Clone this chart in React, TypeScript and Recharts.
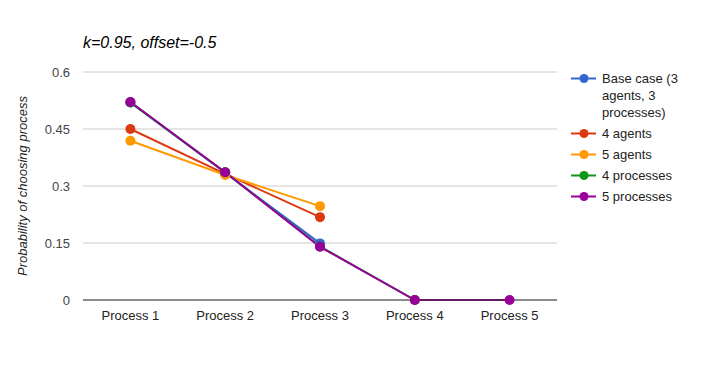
import React from 'react';
import { LineChart, Line, XAxis, YAxis, CartesianGrid, Label } from 'recharts';

const categories = ['Process 1', 'Process 2', 'Process 3', 'Process 4', 'Process 5'];
const baseCase = [0.52, 0.335, 0.149, null, null];
const agents4 = [0.45, 0.332, 0.218, null, null];
const agents5 = [0.419, 0.329, 0.247, null, null];
const processes4 = [0.52, 0.336, 0.141, 0, null];
const processes5 = [0.521, 0.336, 0.14, 0, 0];
const yTicks = [0, 0.15, 0.3, 0.45, 0.6];

const seriesDefs = [
  { key: 'base', name: 'Base case (3 agents, 3 processes)', values: baseCase, color: '#3366cc' },
  { key: 'a4', name: '4 agents', values: agents4, color: '#dc3912' },
  { key: 'a5', name: '5 agents', values: agents5, color: '#ff9900' },
  { key: 'p4', name: '4 processes', values: processes4, color: '#109618' },
  { key: 'p5', name: '5 processes', values: processes5, color: '#990099' },
];

const data = categories.map((c, i) => {
  const row: any = { name: c };
  seriesDefs.forEach((s) => {
    row[s.key] = s.values[i];
  });
  return row;
});

const FONT = "Arial, 'Liberation Sans', sans-serif";

const LegendBlock = () => (
  <div
    style={{
      position: 'absolute',
      left: 570,
      top: 70,
      width: 131,
      fontFamily: FONT,
      fontSize: 13,
      color: '#222',
    }}
  >
    {seriesDefs.map((s) => (
      <div key={s.key} style={{ display: 'flex', alignItems: 'flex-start', marginBottom: 4 }}>
        <svg width={32} height={17} style={{ flex: '0 0 auto' }}>
          <line x1={1} y1={8.5} x2={26} y2={8.5} stroke={s.color} strokeWidth={2} />
          <circle cx={14} cy={8.5} r={4.5} fill={s.color} />
        </svg>
        <div style={{ width: 92, lineHeight: '17px' }}>{s.name}</div>
      </div>
    ))}
  </div>
);

const YLabel = (props: any) => {
  const vb = props.viewBox || { y: 72, height: 228 };
  const cx = 22;
  const cy = vb.y + vb.height / 2;
  return (
    <text
      x={cx}
      y={cy}
      transform={`rotate(-90, ${cx}, ${cy})`}
      textAnchor="middle"
      dominantBaseline="central"
      fontFamily={FONT}
      fontSize={13}
      fontStyle="italic"
      fill="#222"
    >
      Probability of choosing process
    </text>
  );
};

export default function App() {
  return (
    <div style={{ position: 'absolute', left: 0, top: 0, width: 701, height: 371, background: '#fff' }}>
      <div
        style={{
          position: 'absolute',
          left: 83,
          top: 33,
          fontFamily: FONT,
          fontSize: 16,
          fontStyle: 'italic',
          color: '#000',
          whiteSpace: 'nowrap',
          lineHeight: '20px',
        }}
      >
        k=0.95, offset=-0.5
      </div>
      <LineChart
        width={701}
        height={371}
        data={data}
        margin={{ top: 72, right: 144, bottom: 41, left: 23 }}
      >
        <CartesianGrid vertical={false} stroke="#cccccc" strokeWidth={1} />
        <XAxis
          dataKey="name"
          scale="band"
          height={30}
          tickLine={false}
          tickSize={0}
          tickMargin={11}
          axisLine={{ stroke: '#333333', strokeWidth: 1 }}
          tick={{ fontFamily: FONT, fontSize: 13, fill: '#222' }}
          interval={0}
        />
        <YAxis
          width={60}
          domain={[0, 0.6]}
          ticks={yTicks}
          tickLine={false}
          tickSize={0}
          tickMargin={13}
          axisLine={false}
          tick={{ fontFamily: FONT, fontSize: 13, fill: '#444' }}
        >
          <Label content={<YLabel />} />
        </YAxis>
        {seriesDefs.map((s) => (
          <Line
            key={s.key}
            dataKey={s.key}
            name={s.name}
            stroke={s.color}
            strokeWidth={2}
            dot={{ r: 5, fill: s.color, stroke: s.color, strokeWidth: 0 }}
            activeDot={false}
            isAnimationActive={false}
            connectNulls={false}
          />
        ))}
      </LineChart>
      <LegendBlock />
    </div>
  );
}
